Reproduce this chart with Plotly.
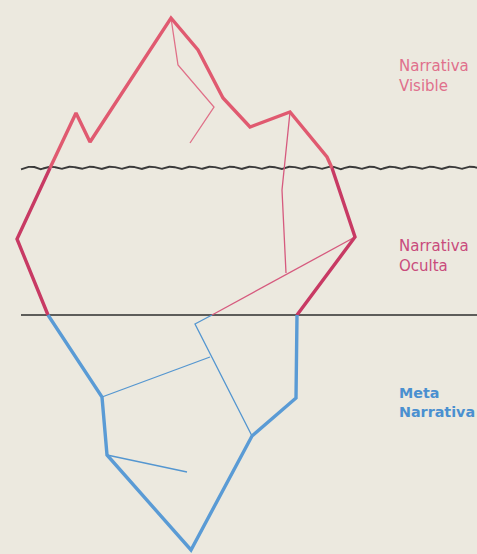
import numpy as np
import plotly.graph_objects as go

# Iceberg outline vertices (pixel-like coordinates, y downward)
visible_x = [50, 76, 90, 171, 198, 223, 250, 290, 327, 332]
visible_y = [168, 113, 142, 18, 50, 98, 127, 112, 157, 168]
hidden_left_x = [50, 17, 48]
hidden_left_y = [168, 239, 315]
hidden_right_x = [332, 355, 297]
hidden_right_y = [168, 237, 315]
meta_x = [48, 102, 107, 191, 252, 296, 297]
meta_y = [315, 397, 455, 550, 436, 398, 315]

# Cracks (thin lines)
crack_visible_x = [171, 178, 214, 190]
crack_visible_y = [18, 65, 107, 143]
crack_hidden1_x = [290, 282, 286]
crack_hidden1_y = [112, 190, 273]
crack_hidden2_x = [355, 212]
crack_hidden2_y = [237, 315]
crack_meta1_x = [212, 195, 252]
crack_meta1_y = [315, 324, 436]
crack_meta2_x = [210, 102]
crack_meta2_y = [357, 397]
crack_meta3_x = [107, 187]
crack_meta3_y = [455, 472]

# Water lines
water_y = 168
seabed_y = 315
line_x0, line_x1 = 21, 477

labels = ["Narrativa<br>Visible", "Narrativa<br>Oculta", "<b>Meta<br>Narrativa</b>"]
label_y = [55, 235, 383]
label_sizes = [15, 15, 14.3]
label_colors = ["#e0708c", "#c94b7c", "#4a90d0"]

c_vis = "#e05a70"
c_hid = "#c83a64"
c_meta = "#5a9bd5"
c_vis_thin = "#e07088"
c_hid_thin = "#d65a7e"
c_meta_thin = "#5496d0"

fig = go.Figure()

def add_line(x, y, color, width):
    fig.add_trace(go.Scatter(x=x, y=y, mode="lines",
                             line=dict(color=color, width=width),
                             hoverinfo="skip", showlegend=False))

# water wave
wx = np.linspace(line_x0, line_x1, 1200)
wy = water_y - 2.6 * np.abs(np.sin(np.pi * (wx - line_x0) / 20.0)) + 1.3
add_line(wx, wy, "#3a3a3a", 1.9)
# seabed line
add_line([line_x0, line_x1], [seabed_y, seabed_y], "#2e2e2e", 1.6)

add_line(crack_visible_x, crack_visible_y, c_vis_thin, 1.3)
add_line(crack_hidden1_x, crack_hidden1_y, c_hid_thin, 1.3)
add_line(crack_hidden2_x, crack_hidden2_y, c_hid_thin, 1.3)
add_line(crack_meta1_x, crack_meta1_y, c_meta_thin, 1.3)
add_line(crack_meta2_x, crack_meta2_y, c_meta_thin, 1.3)
add_line(crack_meta3_x, crack_meta3_y, c_meta_thin, 1.3)

add_line(visible_x, visible_y, c_vis, 3.4)
add_line(hidden_left_x, hidden_left_y, c_hid, 3.4)
add_line(hidden_right_x, hidden_right_y, c_hid, 3.4)
add_line(meta_x, meta_y, c_meta, 3.4)

for t, yv, sz, col in zip(labels, label_y, label_sizes, label_colors):
    fig.add_annotation(x=397, y=yv, xref="x", yref="y", text=t, showarrow=False,
                       xanchor="left", yanchor="top", align="left",
                       font=dict(family="DejaVu Sans", size=sz, color=col))

fig.update_layout(
    width=477, height=554,
    margin=dict(l=0, r=0, t=0, b=0),
    paper_bgcolor="#ece9df", plot_bgcolor="#ece9df",
    xaxis=dict(range=[0, 477], visible=False, fixedrange=True),
    yaxis=dict(range=[554, 0], visible=False, fixedrange=True),
    showlegend=False,
)

fig.write_html("out.html", config={"displayModeBar": False},
               post_script="document.body.style.margin='0';document.body.style.background='#ece9df';")
